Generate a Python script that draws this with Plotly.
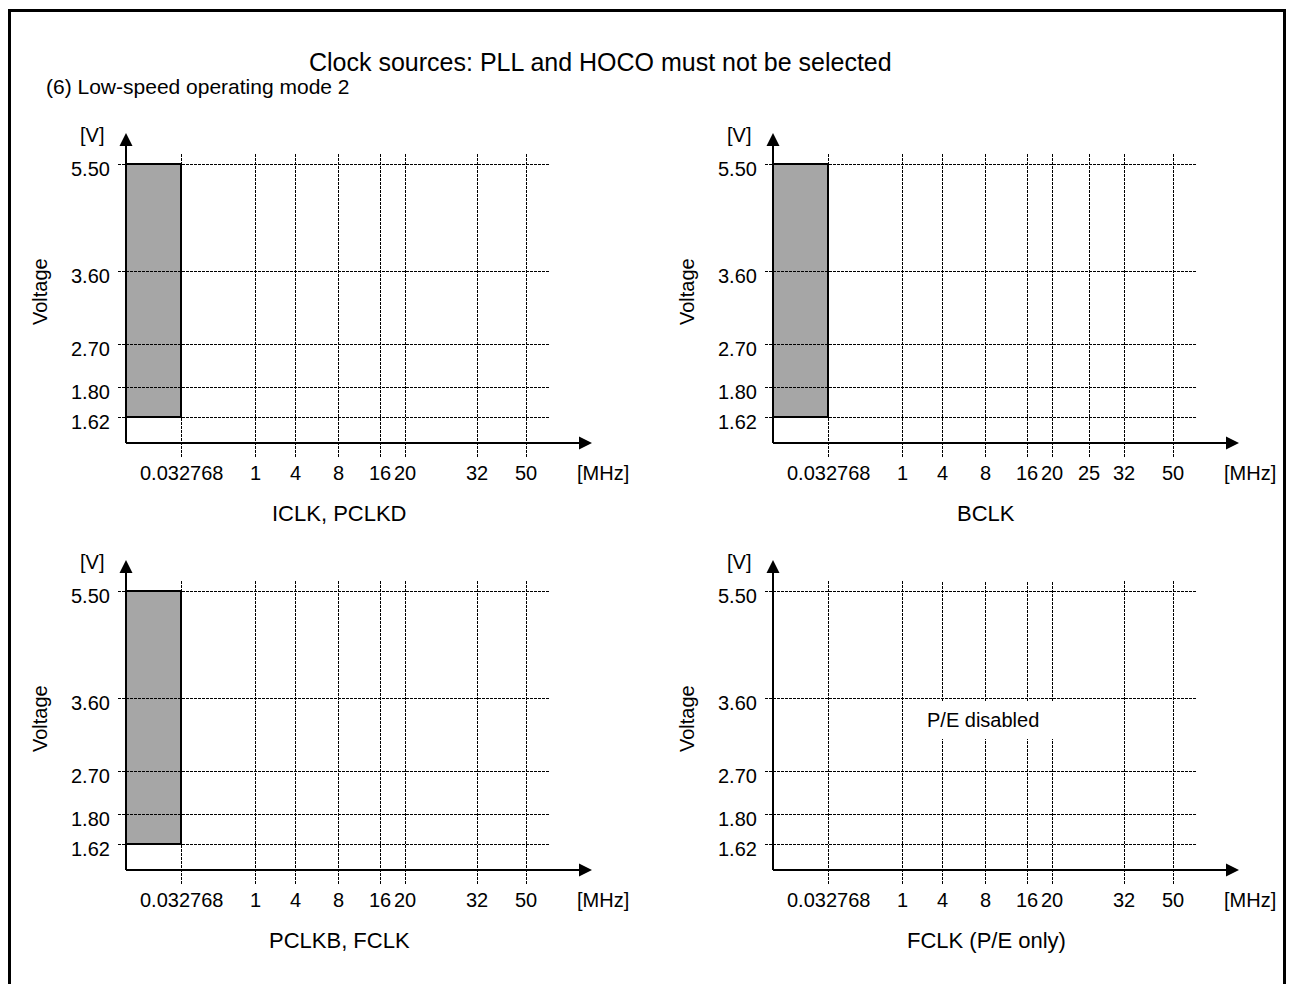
import plotly.graph_objects as go

W, H = 1290, 984
FONT = "Arial, Liberation Sans, sans-serif"

title_text = "Clock sources: PLL and HOCO must not be selected"
subtitle_text = "(6) Low-speed operating mode 2"

# the drawing uses a schematic (non-linear) scale on both axes
freq_scale = {"0.032768": 55, "1": 129, "4": 169, "8": 212, "16": 254,
              "20": 279, "25": 316, "32": 351, "50": 400}
volt_scale = {"1.62": 26, "1.80": 56, "2.70": 99, "3.60": 172, "5.50": 279}

panel_titles = ["ICLK, PCLKD", "BCLK", "PCLKB, FCLK", "FCLK (P/E only)"]
freq_ticks = [
    ["0.032768", "1", "4", "8", "16", "20", "32", "50"],
    ["0.032768", "1", "4", "8", "16", "20", "25", "32", "50"],
    ["0.032768", "1", "4", "8", "16", "20", "32", "50"],
    ["0.032768", "1", "4", "8", "16", "20", "32", "50"],
]
volt_ticks = ["1.62", "1.80", "2.70", "3.60", "5.50"]

# operating area: 0 .. f_max, v_min .. v_max (None = no area)
op_freq_max = ["0.032768", "0.032768", "0.032768", None]
op_volt_min = "1.62"
op_volt_max = "5.50"

pe_note = [None, None, None, "P/E disabled"]
pe_gap_ticks = ["4", "8", "16", "20"]

# panel origins in pixels (layout only)
origins = [(126, 443), (773, 443), (126, 870), (773, 870)]
x_range = (-100, 500)
y_range = (-90, 330)
crisp = 0.5  # half-pixel nudge so 1px dotted grid lines stay sharp

grid_style = dict(color="black", width=1, dash="3px,1px")
fill_gray = "#a6a6a6"

fig = go.Figure()
annotations = []

for i, (ox, oy) in enumerate(origins):
    n = "" if i == 0 else str(i + 1)
    xa, ya = "x" + n, "y" + n
    fig.update_layout(**{
        "xaxis" + n: dict(domain=[(ox + x_range[0]) / W, (ox + x_range[1]) / W],
                          range=list(x_range), visible=False, fixedrange=True, anchor=ya),
        "yaxis" + n: dict(domain=[1 - (oy - y_range[0]) / H, 1 - (oy - y_range[1]) / H],
                          range=list(y_range), visible=False, fixedrange=True, anchor=xa),
    })

    # operating area
    if op_freq_max[i] is not None:
        fx = freq_scale[op_freq_max[i]]
        v0, v1 = volt_scale[op_volt_min], volt_scale[op_volt_max]
        fig.add_trace(go.Scatter(x=[0, fx, fx, 0, 0], y=[v0, v0, v1, v1, v0], xaxis=xa, yaxis=ya,
                                 mode="lines", fill="toself", fillcolor=fill_gray,
                                 line=dict(color="black", width=2), hoverinfo="skip", showlegend=False))

    # horizontal grid
    gx, gy = [], []
    for v in volt_ticks:
        y = volt_scale[v] - crisp
        gx += [-8, 424, None]
        gy += [y, y, None]
    # vertical grid
    for f in freq_ticks[i]:
        p = freq_scale[f] + crisp
        if pe_note[i] is not None and f in pe_gap_ticks:
            gx += [p, p, None, p, p, None]
            gy += [-14, 131, None, 169, 289, None]
        else:
            gx += [p, p, None]
            gy += [-14, 289, None]
    fig.add_trace(go.Scatter(x=gx, y=gy, xaxis=xa, yaxis=ya, mode="lines", line=grid_style,
                             hoverinfo="skip", showlegend=False))

    if op_freq_max[i] is not None:
        fx = freq_scale[op_freq_max[i]]
        v0, v1 = volt_scale[op_volt_min], volt_scale[op_volt_max]
        fig.add_trace(go.Scatter(x=[0, fx, fx, 0], y=[v0, v0, v1, v1], xaxis=xa, yaxis=ya,
                                 mode="lines", line=dict(color="black", width=2),
                                 hoverinfo="skip", showlegend=False))

    # axis arrows
    fig.add_trace(go.Scatter(x=[0, 0, None, 0, 456], y=[0, 300, None, 0, 0], xaxis=xa, yaxis=ya,
                             mode="lines", line=dict(color="black", width=2),
                             hoverinfo="skip", showlegend=False))
    fig.add_trace(go.Scatter(x=[0, 466], y=[310, 0], xaxis=xa, yaxis=ya, mode="markers",
                             marker=dict(symbol=["arrow-up", "arrow-right"], size=13, color="black",
                                         line=dict(width=0)),
                             hoverinfo="skip", showlegend=False))

    tf = dict(family=FONT, size=20, color="black")
    for v in volt_ticks:
        annotations.append(dict(x=-14, y=volt_scale[v], xref=xa, yref=ya, text=v, showarrow=False,
                                xanchor="right", yanchor="middle", font=tf, yshift=-5))
    for f in freq_ticks[i]:
        annotations.append(dict(x=freq_scale[f], y=-30, xref=xa, yref=ya, text=f, showarrow=False,
                                xanchor="center", yanchor="middle", font=tf))
    annotations.append(dict(x=477, y=-30, xref=xa, yref=ya, text="[MHz]", showarrow=False,
                            xanchor="center", yanchor="middle", font=tf))
    annotations.append(dict(x=-34, y=308, xref=xa, yref=ya, text="[V]", showarrow=False,
                            xanchor="center", yanchor="middle", font=tf))
    annotations.append(dict(x=-86, y=151, xref=xa, yref=ya, text="Voltage", showarrow=False,
                            textangle=-90, xanchor="center", yanchor="middle", font=tf))
    annotations.append(dict(x=213, y=-70, xref=xa, yref=ya, text=panel_titles[i], showarrow=False,
                            xanchor="center", yanchor="middle",
                            font=dict(family=FONT, size=22, color="black")))
    if pe_note[i] is not None:
        annotations.append(dict(x=210, y=150, xref=xa, yref=ya, text=pe_note[i], showarrow=False,
                                xanchor="center", yanchor="middle", font=tf))

annotations.append(dict(x=600 / W, y=1 - 62 / H, xref="paper", yref="paper", text=title_text,
                        showarrow=False, xanchor="center", yanchor="middle",
                        font=dict(family=FONT, size=25, color="black")))
annotations.append(dict(x=44 / W, y=1 - 86 / H, xref="paper", yref="paper", text=subtitle_text,
                        showarrow=False, xanchor="left", yanchor="middle",
                        font=dict(family=FONT, size=21, color="black")))

fig.update_layout(
    width=W, height=H,
    margin=dict(l=0, r=0, t=0, b=0),
    paper_bgcolor="white",
    plot_bgcolor="rgba(0,0,0,0)",
    annotations=annotations,
    shapes=[dict(type="rect", xref="paper", yref="paper", x0=9.5 / W, x1=1284.5 / W,
                 y0=1 - 1000 / H, y1=1 - 10.5 / H, line=dict(color="black", width=3))],
    font=dict(family=FONT, color="black"),
)

fig.write_html("out.html", config={"displayModeBar": False},
               post_script="document.body.style.margin='0';")
